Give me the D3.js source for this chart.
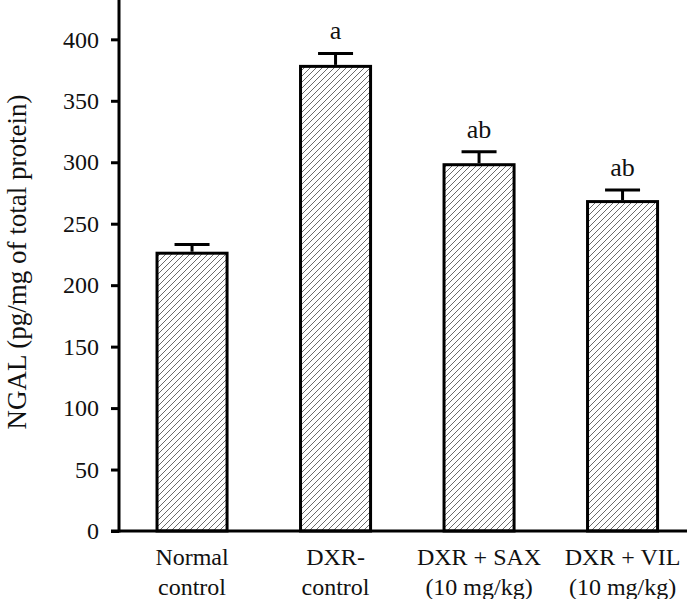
<!DOCTYPE html>
<html lang="en">
<head>
<meta charset="utf-8">
<title>NGAL bars</title>
<script src="https://cdn.jsdelivr.net/npm/d3@7"></script>
<style>
  body { margin: 0; background: #fff; }
  svg text { font-family: "Liberation Serif", "Times New Roman", serif; fill: #111; }
  .axis path, .axis line { stroke: #000; }
  .axis .tick text { font-size: 24px; font-family: "Liberation Serif", serif; }
</style>
</head>
<body>
<script>
// data
var groups = ["Normal control", "DXR- control", "DXR + SAX (10 mg/kg)", "DXR + VIL (10 mg/kg)"];
var labelLines = [["Normal", "control"], ["DXR-", "control"], ["DXR + SAX", "(10 mg/kg)"], ["DXR + VIL", "(10 mg/kg)"]];
var means = [226, 378, 298, 268];
var sems = [7, 10.5, 10.5, 9.5];
var marks = ["", "a", "ab", "ab"];
var yTicks = [0, 50, 100, 150, 200, 250, 300, 350, 400];

var w = 687, h = 599;
var axisX = 119, baseY = 531;

var svg = d3.select("body").append("svg")
  .attr("width", w).attr("height", h);

// hatch fill
var defs = svg.append("defs");
defs.append("pattern")
  .attr("id", "hatch")
  .attr("patternUnits", "userSpaceOnUse")
  .attr("width", 6).attr("height", 6)
  .append("path")
  .attr("d", "M0,6 L6,0 M-1,1 L1,-1 M5,7 L7,5")
  .attr("stroke", "#5a5a5a")
  .attr("stroke-width", 0.9);

var x = d3.scaleBand()
  .domain(groups)
  .range([axisX, 695.6])
  .paddingInner(0.512)
  .paddingOuter(0.265);

var y = d3.scaleLinear()
  .domain([0, 432])
  .range([baseY, 0]);

// bars
svg.selectAll("rect.bar")
  .data(groups)
  .enter().append("rect")
  .attr("class", "bar")
  .attr("x", function(d) { return x(d); })
  .attr("y", function(d, i) { return y(means[i]); })
  .attr("width", x.bandwidth())
  .attr("height", function(d, i) { return y(0) - y(means[i]); })
  .attr("fill", "url(#hatch)")
  .attr("stroke", "#000")
  .attr("stroke-width", 3);

// error bars (upper only)
var capW = 35;
var err = svg.selectAll("g.err")
  .data(groups)
  .enter().append("g")
  .attr("class", "err");
err.append("line")
  .attr("x1", function(d) { return x(d) + x.bandwidth() / 2; })
  .attr("x2", function(d) { return x(d) + x.bandwidth() / 2; })
  .attr("y1", function(d, i) { return y(means[i]) - 1.5; })
  .attr("y2", function(d, i) { return y(means[i] + sems[i]); })
  .attr("stroke", "#000").attr("stroke-width", 3);
err.append("line")
  .attr("x1", function(d) { return x(d) + x.bandwidth() / 2 - capW / 2; })
  .attr("x2", function(d) { return x(d) + x.bandwidth() / 2 + capW / 2; })
  .attr("y1", function(d, i) { return y(means[i] + sems[i]); })
  .attr("y2", function(d, i) { return y(means[i] + sems[i]); })
  .attr("stroke", "#000").attr("stroke-width", 3);

// significance letters
svg.selectAll("text.mark")
  .data(groups)
  .enter().append("text")
  .attr("class", "mark")
  .attr("x", function(d) { return x(d) + x.bandwidth() / 2; })
  .attr("y", function(d, i) { return y(means[i] + sems[i]) - 14; })
  .attr("text-anchor", "middle")
  .style("font-size", "26px")
  .text(function(d, i) { return marks[i]; });

// y axis
var yAxis = d3.axisLeft(y)
  .tickValues(yTicks)
  .tickSize(8)
  .tickPadding(12);
var gy = svg.append("g")
  .attr("class", "axis")
  .attr("transform", "translate(" + axisX + ",0)")
  .call(yAxis);
gy.select(".domain").remove();
gy.selectAll(".tick line").attr("stroke-width", 3);
gy.selectAll(".tick text")
  .style("font-size", "24px")
  .attr("fill", "#111");
svg.append("line")
  .attr("x1", axisX).attr("x2", axisX)
  .attr("y1", 0).attr("y2", baseY + 1.5)
  .attr("stroke", "#000").attr("stroke-width", 3);

// x axis line
svg.append("line")
  .attr("x1", axisX - 8).attr("x2", w)
  .attr("y1", baseY).attr("y2", baseY)
  .attr("stroke", "#000").attr("stroke-width", 3);

// category labels
var xl = svg.selectAll("text.cat")
  .data(groups)
  .enter().append("text")
  .attr("class", "cat")
  .attr("text-anchor", "middle")
  .style("font-size", "24px");
xl.each(function(d, i) {
  var t = d3.select(this);
  labelLines[i].forEach(function(s, k) {
    t.append("tspan")
      .attr("x", x(d) + x.bandwidth() / 2)
      .attr("y", 565 + k * 30)
      .text(s);
  });
});

// y title
svg.append("text")
  .attr("transform", "translate(26," + 262 + ") rotate(-90)")
  .attr("text-anchor", "middle")
  .style("font-size", "27px")
  .text("NGAL (pg/mg of total protein)");
</script>
</body>
</html>
